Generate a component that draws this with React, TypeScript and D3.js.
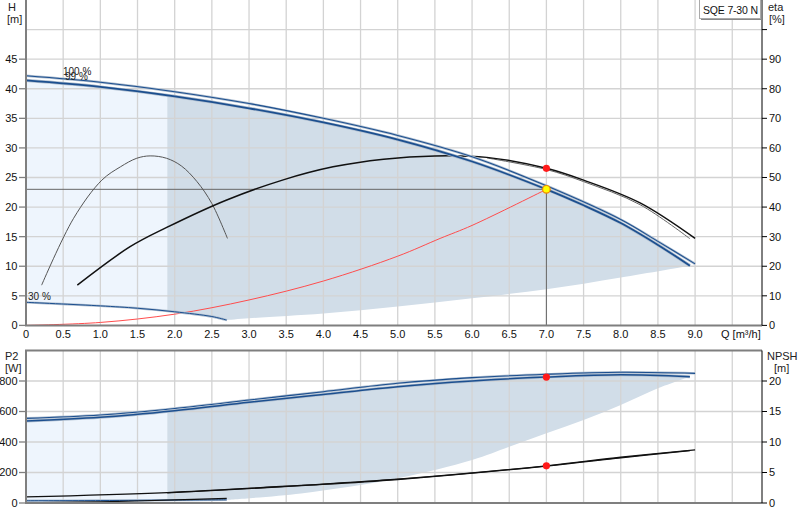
import React from 'react';
import * as d3 from 'd3';

type Pt = [number, number];

// Q [m³/h] vs H [m]
const head100: Pt[] = [[0, 42.2], [1, 41.1], [2, 39.5], [3, 37.5], [4, 35.0], [5, 32.1], [6, 28.5], [7, 23.6], [8, 17.9], [8.5, 14.2], [9, 10.4]];
const head99: Pt[] = [[0, 41.4], [1, 40.3], [2, 38.7], [3, 36.7], [4, 34.3], [5, 31.4], [6, 27.7], [7, 23.0], [7.5, 20.3], [8, 17.3], [8.5, 13.6], [8.93, 10.1]];
const head30: Pt[] = [[0, 3.9], [1, 3.3], [1.5, 2.9], [2, 2.3], [2.5, 1.5], [2.7, 0.9]];
const headAreaLower: Pt[] = [[2.7, 0.9], [3, 1.2], [4, 2.0], [5, 3.2], [6, 4.6], [7, 6.1], [8, 8.1], [8.93, 10.1]];
const systemCurve: Pt[] = [[0, 0], [1, 0.5], [2, 1.9], [3, 4.3], [4, 7.5], [5, 11.7], [5.57, 14.7], [6, 16.9], [7, 23.0]];

// eta [%]
const eta100: Pt[] = [[0.69, 13.6], [1.4, 26.6], [1.9, 33.2], [2.7, 42.4], [3.46, 49.2], [4.13, 53.6], [4.81, 56.2], [5.5, 57.3], [6.2, 56.8], [7, 53.1], [7.5, 49.1], [8.26, 41.4], [9, 29.4]];
const eta99: Pt[] = [[6.2, 56.6], [7, 52.7], [7.5, 48.6], [8.26, 40.8], [8.93, 29.3]];
const eta30: Pt[] = [[0.21, 13.6], [0.64, 36.2], [1.02, 49.1], [1.27, 53.6], [1.49, 56.5], [1.67, 57.3], [1.89, 56.5], [2.09, 53.9], [2.3, 48.6], [2.5, 41.2], [2.71, 29.4]];

// P2 [W]
const power100: Pt[] = [[0, 555], [1, 577], [2, 620], [3, 675], [4, 730], [5, 785], [6, 822], [7, 844], [8, 857], [9, 850]];
const power99: Pt[] = [[0, 538], [1, 562], [2, 605], [3, 660], [4, 712], [5, 763], [6, 800], [7, 826], [8, 841], [8.93, 828]];
const power30: Pt[] = [[0, 15], [1, 16], [2, 19], [2.7, 21]];
const powerAreaLower: Pt[] = [[2.7, 21], [3.7, 63], [5, 162], [6, 282], [6.5, 369], [7, 457], [7.5, 544], [8, 643], [8.5, 752], [8.93, 828]];

// NPSH [m]
const npsh100: Pt[] = [[0, 1.0], [1.9, 1.7], [3.7, 2.9], [5, 3.9], [7, 6.1], [8, 7.5], [9, 8.7]];
const npsh99: Pt[] = [[1.9, 1.65], [3.7, 2.85], [5, 3.85], [7, 6.05], [8, 7.4], [8.93, 8.6]];
const npsh30: Pt[] = [[0.2, 0.05], [1, 0.2], [2, 0.5], [2.7, 0.75]];

const dutyQ = 7;
const dutyH = 23.0;
const dutyEta = 53.1;
const dutyP2 = 826;
const dutyNpsh = 6.1;
const minQ = 1.9;

const qTicks = d3.range(0, 9.01, 0.5);
const qGrid = d3.range(0.5, 9.51, 0.5);
const hTicks = d3.range(0, 46, 5);
const etaTicks = d3.range(0, 91, 10);
const pTicks = [0, 200, 400, 600, 800];
const npshTicks = [0, 5, 10, 15, 20];

const W = 800;
const H = 520;
const LEFT = 26;
const RIGHT = 762;

const App: React.FC = () => {
  const x = d3.scaleLinear().domain([0, 9.9]).range([LEFT, RIGHT]);
  const yH = d3.scaleLinear().domain([0, 55]).range([325.4, 0]);
  const yEta = d3.scaleLinear().domain([0, 110]).range([325.4, 0]);
  const yP = d3.scaleLinear().domain([0, 1000]).range([503, 350.5]);
  const yN = d3.scaleLinear().domain([0, 25]).range([503, 350.5]);

  const mk = (ys: d3.ScaleLinear<number, number>) =>
    d3.line<Pt>().x((d) => x(d[0])).y((d) => ys(d[1])).curve(d3.curveCatmullRom.alpha(0.5));

  const lH = mk(yH);
  const lEta = mk(yEta);
  const lP = mk(yP);
  const lN = mk(yN);

  // closed area: top curve, then lower boundary reversed
  const areaPath = (line: d3.Line<Pt>, top: Pt[], lower: Pt[], low30: Pt[]) => {
    const a = line(top) || '';
    const b = line([...lower].reverse()) || '';
    const c = line([...low30].reverse()) || '';
    return `${a}L${b.slice(1)}L${c.slice(1)}Z`;
  };
  const topArea = areaPath(lH, head99, headAreaLower, head30);
  const botArea = areaPath(lP, power99, powerAreaLower, power30);

  const font = '"Liberation Sans", Arial, sans-serif';
  const gridColor = '#d3d3d3';
  const frameColor = '#7f7f7f';
  const blue = '#1c4f8f';
  const halo = '#b0bfd0';

  const dbl = (d: string | null, w: number, key: string) => (
    <g key={key}>
      <path d={d || ''} fill="none" stroke={halo} strokeWidth={w + 1.4} />
      <path d={d || ''} fill="none" stroke={blue} strokeWidth={w} />
    </g>
  );

  return (
    <svg width={W} height={H} style={{ position: 'absolute', left: 0, top: 0, background: '#fff' }} fontFamily={font}>
      <defs>
        <clipPath id="lightPart">
          <rect x={0} y={0} width={x(minQ)} height={H} />
        </clipPath>
        <clipPath id="darkPart">
          <rect x={x(minQ)} y={0} width={W} height={H} />
        </clipPath>
      </defs>

      {/* ---------- top panel ---------- */}
      <path d={topArea} fill="#eef5fd" clipPath="url(#lightPart)" />
      <path d={topArea} fill="#d1dde8" clipPath="url(#darkPart)" />

      {qGrid.map((q) => (
        <line key={`gv${q}`} x1={x(q)} x2={x(q)} y1={0} y2={yH(0)} stroke={gridColor} strokeWidth={1.3} />
      ))}
      {d3.range(5, 51, 5).map((h) => (
        <line key={`gh${h}`} x1={LEFT} x2={RIGHT} y1={yH(h)} y2={yH(h)} stroke={gridColor} strokeWidth={1.3} />
      ))}

      {/* duty lines */}
      <line x1={LEFT} x2={x(dutyQ)} y1={yH(dutyH)} y2={yH(dutyH)} stroke="#666" strokeWidth={1} />
      <line x1={x(dutyQ)} x2={x(dutyQ)} y1={yH(dutyH)} y2={yH(0)} stroke="#666" strokeWidth={1} />

      <path d={lH(systemCurve) || ''} fill="none" stroke="#ff4d4d" strokeWidth={1} />
      <path d={lEta(eta30) || ''} fill="none" stroke="#555" strokeWidth={1} />
      <path d={lEta(eta99) || ''} fill="none" stroke="#666" strokeWidth={1} />
      <path d={lEta(eta100) || ''} fill="none" stroke="#111" strokeWidth={1.5} />

      {dbl(lH(head30), 1, 'h30')}
      {dbl(lH(head100), 1.1, 'h100')}
      {dbl(lH(head99), 1.8, 'h99')}

      <circle cx={x(dutyQ)} cy={yEta(dutyEta)} r={3.6} fill="#ff1a1a" />
      <circle cx={x(dutyQ)} cy={yH(dutyH)} r={3.8} fill="#ffff00" stroke="#f08a00" strokeWidth={1.2} />

      <text x={63} y={75} fontSize={10} fill="#222">100 %</text>
      <text x={65} y={80} fontSize={10} fill="#222">99 %</text>
      <text x={28} y={300} fontSize={10} fill="#222">30 %</text>

      {/* frame top panel */}
      <line x1={LEFT} x2={LEFT} y1={0} y2={yH(0)} stroke={frameColor} strokeWidth={2} />
      <line x1={LEFT - 1} x2={RIGHT} y1={yH(0)} y2={yH(0)} stroke={frameColor} strokeWidth={2} />
      <line x1={RIGHT} x2={RIGHT} y1={0} y2={yH(0)} stroke="#000" strokeWidth={1} />

      {hTicks.map((h) => (
        <g key={`ht${h}`}>
          <line x1={19} x2={LEFT} y1={yH(h)} y2={yH(h)} stroke={frameColor} strokeWidth={1.3} />
          <text x={17.5} y={yH(h)} dy="0.35em" textAnchor="end" fontSize={11} fill="#111">{h}</text>
        </g>
      ))}
      {[...etaTicks, 100].map((e) => (
        <g key={`et${e}`}>
          <line x1={RIGHT} x2={RIGHT + 5} y1={yEta(e)} y2={yEta(e)} stroke="#000" strokeWidth={1} />
          {e < 100 && (
            <text x={769} y={yEta(e)} dy="0.35em" fontSize={11} fill="#111">{e}</text>
          )}
        </g>
      ))}
      {qTicks.map((q) => (
        <text key={`qt${q}`} x={x(q)} y={338} textAnchor="middle" fontSize={11} fill="#111">
          {q === 0 ? '0' : q.toFixed(1)}
        </text>
      ))}
      <text x={721} y={338} fontSize={11} fill="#111">Q [m³/h]</text>

      <text x={8} y={11} fontSize={11} fill="#222">H</text>
      <text x={7} y={23} fontSize={11} fill="#222">[m]</text>
      <text x={768} y={11} fontSize={11} fill="#222">eta</text>
      <text x={769} y={23} fontSize={11} fill="#222">[%]</text>

      <rect x={701} y={1} width={61} height={19} fill="#888" />
      <rect x={699.5} y={-0.5} width={61} height={19} fill="#fff" stroke="#aaa" strokeWidth={1} />
      <text x={703} y={13.5} fontSize={10.5} textLength={55} fill="#111">SQE 7-30 N</text>

      {/* ---------- bottom panel ---------- */}
      <path d={botArea} fill="#eef5fd" clipPath="url(#lightPart)" />
      <path d={botArea} fill="#d1dde8" clipPath="url(#darkPart)" />

      {qGrid.map((q) => (
        <line key={`bgv${q}`} x1={x(q)} x2={x(q)} y1={yP(1000)} y2={yP(0)} stroke={gridColor} strokeWidth={1.3} />
      ))}
      {[200, 400, 600, 800].map((p) => (
        <line key={`bgh${p}`} x1={LEFT} x2={RIGHT} y1={yP(p)} y2={yP(p)} stroke={gridColor} strokeWidth={1.3} />
      ))}

      {dbl(lP(power30), 1, 'p30')}
      <path d={lN(npsh30) || ''} fill="none" stroke="#111" strokeWidth={1.2} />
      <path d={lN(npsh100) || ''} fill="none" stroke="#111" strokeWidth={1.3} />
      <path d={lN(npsh99) || ''} fill="none" stroke="#111" strokeWidth={1.3} />
      {dbl(lP(power100), 1.1, 'p100')}
      {dbl(lP(power99), 1.5, 'p99')}

      <circle cx={x(dutyQ)} cy={yP(dutyP2)} r={3.6} fill="#ff1a1a" />
      <circle cx={x(dutyQ)} cy={yN(dutyNpsh)} r={3.6} fill="#ff1a1a" />

      <line x1={LEFT} x2={LEFT} y1={yP(1000)} y2={yP(0)} stroke={frameColor} strokeWidth={2} />
      <line x1={LEFT - 1} x2={RIGHT} y1={yP(0)} y2={yP(0)} stroke={frameColor} strokeWidth={2} />
      <line x1={LEFT - 1} x2={RIGHT} y1={yP(1000)} y2={yP(1000)} stroke={frameColor} strokeWidth={2} />
      <line x1={RIGHT} x2={RIGHT} y1={yP(1000)} y2={yP(0)} stroke="#000" strokeWidth={1} />

      {pTicks.map((p) => (
        <g key={`pt${p}`}>
          <line x1={19} x2={LEFT} y1={yP(p)} y2={yP(p)} stroke={frameColor} strokeWidth={1.3} />
          <text x={17.5} y={yP(p)} dy="0.35em" textAnchor="end" fontSize={11} fill="#111">{p}</text>
        </g>
      ))}
      {npshTicks.map((n) => (
        <g key={`nt${n}`}>
          <line x1={RIGHT} x2={RIGHT + 5} y1={yN(n)} y2={yN(n)} stroke="#000" strokeWidth={1} />
          <text x={769} y={yN(n)} dy="0.35em" fontSize={11} fill="#111">{n}</text>
        </g>
      ))}

      <text x={5} y={360} fontSize={11} fill="#222">P2</text>
      <text x={5} y={372} fontSize={11} fill="#222">[W]</text>
      <text x={767} y={360} fontSize={11} fill="#222">NPSH</text>
      <text x={774} y={372} fontSize={11} fill="#222">[m]</text>
    </svg>
  );
};

export default App;
